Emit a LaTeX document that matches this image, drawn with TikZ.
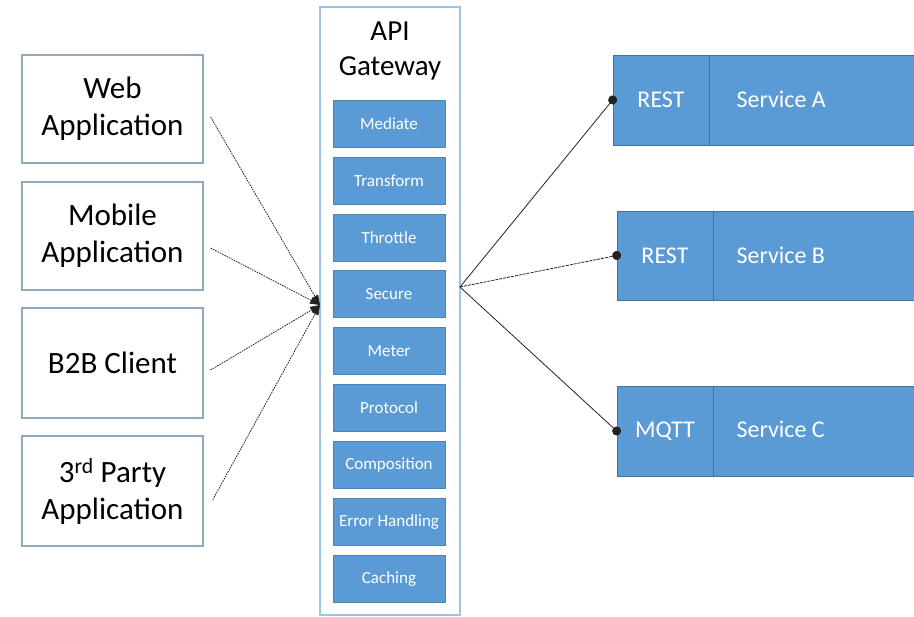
\documentclass[tikz,border=0pt]{standalone}
\usepackage{fontspec}
\setmainfont{Carlito}
\usetikzlibrary{arrows.meta}
\definecolor{boxblue}{HTML}{5B9BD5}
\definecolor{boxedge}{HTML}{41719C}
\definecolor{clientedge}{HTML}{8FA9BF}
\definecolor{gwedge}{HTML}{9DC3E6}
\definecolor{linkgray}{HTML}{222222}
\begin{document}
\begin{tikzpicture}[x=1pt,y=-1pt,
  client/.style={draw=clientedge,line width=1.2pt,fill=white,minimum width=181pt,align=center,font=\fontsize{31}{37}\selectfont,inner sep=0pt},
  gw/.style={draw=gwedge,line width=1.4pt,fill=white,minimum width=140pt,minimum height=608pt,inner sep=0pt},
  gwtitle/.style={align=center,font=\fontsize{29}{35}\selectfont,inner sep=0pt},
  func/.style={fill=boxblue,draw=boxblue!85!black,line width=0.4pt,minimum width=112pt,minimum height=47pt,inner sep=0pt,text=white,font=\fontsize{17}{19}\selectfont},
  proto/.style={fill=boxblue,draw=boxedge,line width=0.7pt,minimum width=96pt,inner sep=0pt,text=white,font=\fontsize{24}{28}\selectfont},
  svc/.style={fill=boxblue,draw=boxedge,line width=0.7pt,minimum width=207pt,inner sep=0pt},
  svclabel/.style={anchor=base west,inner sep=0pt,text=white,font=\fontsize{24}{28}\selectfont},
  inlink/.style={draw=linkgray,line width=0.8pt,dash pattern=on 1.6pt off 1pt,-{Triangle[length=10pt,width=7pt]}},
  outlink/.style={draw=linkgray,line width=0.8pt,-{Circle[length=9pt]},shorten >=-4.5pt}
]
\useasboundingbox (0,0) rectangle (914,617);

% clients
\node[client,minimum height=108pt] (web) at (112.5,109) {Web\\Application};
\node[client,minimum height=108pt] (mobile) at (112.5,236) {Mobile\\Application};
\node[client,minimum height=110pt] (b2b) at (112.5,363) {B2B Client};
\node[client,minimum height=110pt] (third) at (112.5,491) {3\textsuperscript{rd} Party\\Application};

% gateway
\node[gw] (gw) at (390,311) {};
\node[gwtitle] (gwt) at (390,51) {API\\Gateway};
\node[func] (f1) at (389,123.5) {Mediate};
\node[func] (f2) at (389,180.4) {Transform};
\node[func] (f3) at (389,237.3) {Throttle};
\node[func] (f4) at (389,294.2) {Secure};
\node[func] (f5) at (389,351.1) {Meter};
\node[func] (f6) at (389,408.0) {Protocol};
\node[func] (f7) at (389,464.9) {Composition};
\node[func] (f8) at (389,521.8) {Error Handling};
\node[func] (f9) at (389,578.7) {Caching};

% services
\node[proto,minimum height=90pt] (pa) at (661,100) {REST};
\node[svc,minimum height=90pt,anchor=west] (sa) at (pa.east) {};
\node[svclabel] (la) at ([xshift=27pt]sa.west |- pa.base) {Service A};
\node[proto,minimum height=89pt] (pb) at (665,255.5) {REST};
\node[svc,minimum height=89pt,anchor=west] (sb) at (pb.east) {};
\node[svclabel] (lb) at ([xshift=23pt]sb.west |- pb.base) {Service B};
\node[proto,minimum height=90pt] (pc) at (665,431) {MQTT};
\node[svc,minimum height=90pt,anchor=west] (sc) at (pc.east) {};
\node[svclabel] (lc) at ([xshift=23pt]sc.west |- pc.base) {Service C};

% hubs
\coordinate (inhub) at (320,305);
\coordinate (outhub) at (460,287);

\draw[inlink] ([xshift=7pt,yshift=-8pt]web.east) -- (inhub);
\draw[inlink] ([xshift=7pt,yshift=-12pt]mobile.east) -- (inhub);
\draw[inlink] ([xshift=7pt,yshift=-7pt]b2b.east) -- (inhub);
\draw[inlink] ([xshift=9pt,yshift=-9pt]third.east) -- (inhub);

\draw[outlink] (outhub) -- (pa.west);
\draw[outlink,dash pattern=on 3pt off 1pt] (outhub) -- (pb.west);
\draw[outlink] (outhub) -- (pc.west);
\end{tikzpicture}
\end{document}
